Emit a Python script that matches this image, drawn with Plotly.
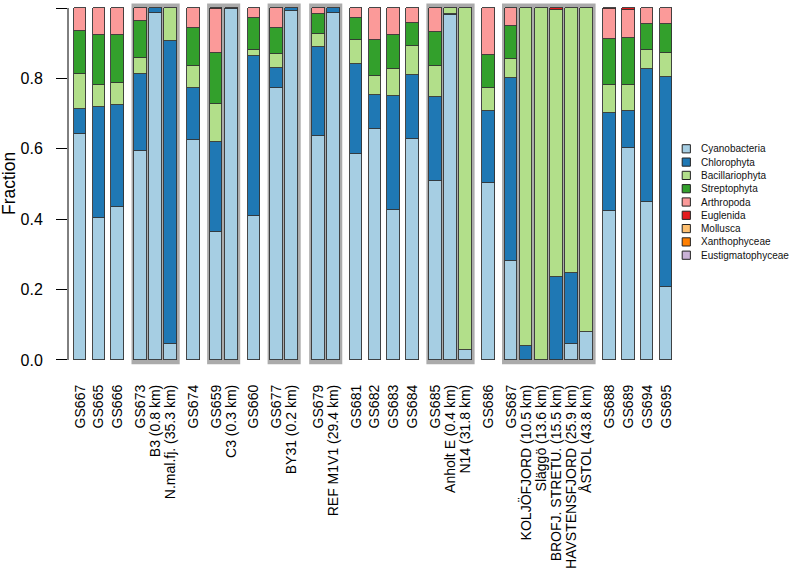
import plotly.graph_objects as go

# sample labels, left to right
samples = [
    "GS667", "GS665", "GS666", "GS673", "B3 (0.8 km)", "N.mal.fj. (35.3 km)", "GS674",
    "GS659", "C3 (0.3 km)", "GS660", "GS677", "BY31 (0.2 km)", "GS679", "REF M1V1 (29.4 km)",
    "GS681", "GS682", "GS683", "GS684", "GS685", "Anholt E (0.4 km)", "N14 (31.8 km)", "GS686",
    "GS687", "KOLJÖFJORD (10.5 km)", "Släggö (13.6 km)", "BROFJ. STRETU. (15.5 km)",
    "HAVSTENSFJORD (25.9 km)", "ÅSTOL (43.8 km)", "GS688", "GS689", "GS694", "GS695",
]

# samples drawn inside a grey box
boxed_groups = [
    ["GS673", "B3 (0.8 km)", "N.mal.fj. (35.3 km)"],
    ["GS659", "C3 (0.3 km)"],
    ["GS677", "BY31 (0.2 km)"],
    ["GS679", "REF M1V1 (29.4 km)"],
    ["GS685", "Anholt E (0.4 km)", "N14 (31.8 km)"],
    ["GS687", "KOLJÖFJORD (10.5 km)", "Släggö (13.6 km)", "BROFJ. STRETU. (15.5 km)",
     "HAVSTENSFJORD (25.9 km)", "ÅSTOL (43.8 km)"],
]

cyanobacteria = [0.641, 0.404, 0.436, 0.593, 0.986, 0.045, 0.626, 0.363, 0.997, 0.409, 0.772,
                 0.991, 0.635, 0.985, 0.585, 0.655, 0.425, 0.629, 0.508, 0.979, 0.027, 0.504,
                 0.281, 0.0, 0.0, 0.0, 0.045, 0.079, 0.423, 0.603, 0.448, 0.207]
chlorophyta = [0.072, 0.314, 0.288, 0.219, 0.014, 0.860, 0.148, 0.256, 0.003, 0.455, 0.057,
               0.009, 0.255, 0.015, 0.256, 0.098, 0.325, 0.182, 0.239, 0.003, 0.0, 0.203,
               0.519, 0.040, 0.0, 0.237, 0.201, 0.0, 0.279, 0.105, 0.379, 0.597]
bacillariophyta = [0.100, 0.064, 0.063, 0.045, 0.0, 0.095, 0.062, 0.107, 0.0, 0.018, 0.039,
                   0.0, 0.035, 0.0, 0.068, 0.054, 0.078, 0.081, 0.087, 0.018, 0.973, 0.065,
                   0.054, 0.960, 1.0, 0.758, 0.754, 0.921, 0.079, 0.072, 0.053, 0.068]
streptophyta = [0.123, 0.140, 0.135, 0.105, 0.0, 0.0, 0.107, 0.146, 0.0, 0.090, 0.075,
                0.0, 0.058, 0.0, 0.063, 0.103, 0.095, 0.066, 0.098, 0.0, 0.0, 0.095,
                0.096, 0.0, 0.0, 0.0, 0.0, 0.0, 0.130, 0.136, 0.075, 0.083]
arthropoda = [0.064, 0.078, 0.078, 0.038, 0.0, 0.0, 0.057, 0.126, 0.0, 0.028, 0.057,
              0.0, 0.017, 0.0, 0.028, 0.090, 0.077, 0.042, 0.068, 0.0, 0.0, 0.133,
              0.050, 0.0, 0.0, 0.0, 0.0, 0.0, 0.086, 0.079, 0.045, 0.045]
euglenida = [0.0, 0.0, 0.0, 0.0, 0.0, 0.0, 0.0, 0.002, 0.0, 0.0, 0.0,
             0.0, 0.0, 0.0, 0.0, 0.0, 0.0, 0.0, 0.0, 0.0, 0.0, 0.0,
             0.0, 0.0, 0.0, 0.005, 0.0, 0.0, 0.003, 0.005, 0.0, 0.0]
mollusca = [0.0] * 32
xanthophyceae = [0.0] * 32
eustigmatophyceae = [0.0] * 32

taxa = ["Cyanobacteria", "Chlorophyta", "Bacillariophyta", "Streptophyta", "Arthropoda",
        "Euglenida", "Mollusca", "Xanthophyceae", "Eustigmatophyceae"]
series = [cyanobacteria, chlorophyta, bacillariophyta, streptophyta, arthropoda,
          euglenida, mollusca, xanthophyceae, eustigmatophyceae]
colors = ["#A6CEE3", "#1F78B4", "#B2DF8A", "#33A02C", "#FB9A99",
          "#E31A1C", "#FDBF6F", "#FF7F00", "#CAB2D6"]

FONT = "Liberation Sans, Arial, sans-serif"
BAR_W = 0.67
BOX_PAD = 0.14

# x positions: boxed bars sit closer together, with a little extra room around each box
group_of = {}
for gi, g in enumerate(boxed_groups):
    for s in g:
        group_of[s] = gi
xpos = [0.0]
for prev, cur in zip(samples[:-1], samples[1:]):
    gp, gc = group_of.get(prev), group_of.get(cur)
    if gp is not None and gp == gc:
        step = 0.8
    else:
        step = 1.0 + (0.2 if gp is not None else 0) + (0.2 if gc is not None else 0)
    xpos.append(xpos[-1] + step)
pos_of = dict(zip(samples, xpos))

fig = go.Figure()
for name, vals, col in zip(taxa, series, colors):
    fig.add_trace(go.Bar(
        x=xpos, y=[v if v > 0 else None for v in vals], name=name, width=BAR_W,
        marker=dict(color=col, line=dict(color="#333333", width=0.9)),
        showlegend=False,
    ))

shapes = []
for g in boxed_groups:
    shapes.append(dict(
        type="rect", xref="x", yref="y", layer="below",
        x0=pos_of[g[0]] - BAR_W / 2 - BOX_PAD, x1=pos_of[g[-1]] + BAR_W / 2 + BOX_PAD,
        y0=-0.012, y1=1.013, fillcolor="#ababab", line=dict(width=0),
    ))
# y axis line only over 0..1, R style
shapes.append(dict(type="line", xref="paper", yref="y", x0=0, x1=0, y0=0, y1=1,
                   line=dict(color="black", width=1)))

# hand-made legend to get R's compact spacing
plot_l, plot_r, plot_t, plot_b = 68, 678.5, 2, 366
pw, ph = plot_r - plot_l, plot_b - plot_t
annotations = []
for i, (name, col) in enumerate(zip(taxa, colors)):
    cy = 148.8 + i * 13.3
    shapes.append(dict(
        type="rect", xref="paper", yref="paper",
        x0=(682.7 - plot_l) / pw, x1=(690.9 - plot_l) / pw,
        y0=(plot_b - cy - 4.1) / ph, y1=(plot_b - cy + 4.1) / ph,
        fillcolor=col, line=dict(color="#222222", width=1),
    ))
    annotations.append(dict(
        xref="paper", yref="paper", x=(699.5 - plot_l) / pw, y=(plot_b - cy) / ph,
        text=name, showarrow=False, xanchor="left", yanchor="middle",
        font=dict(family=FONT, size=10, color="#111111"),
    ))
annotations.append(dict(
    xref="paper", yref="paper", x=0, y=0.5, xshift=-59, text="Fraction", textangle=-90,
    showarrow=False, xanchor="center", yanchor="middle",
    font=dict(family=FONT, size=17.5, color="black"),
))

fig.update_layout(
    width=793, height=575,
    barmode="stack", bargap=0,
    plot_bgcolor="white", paper_bgcolor="white",
    margin=dict(l=plot_l, r=793 - plot_r, t=plot_t, b=575 - plot_b, autoexpand=False),
    xaxis=dict(
        range=[-0.634, xpos[-1] + 0.634], tickmode="array", tickvals=xpos, ticktext=samples,
        tickangle=-90, ticks="", showline=False, showgrid=False, zeroline=False,
        tickfont=dict(family=FONT, size=14, color="black"), ticklabelstandoff=15,
        automargin=False,
    ),
    yaxis=dict(
        range=[-0.0171, 1.0171], tickmode="array", tickvals=[0, 0.2, 0.4, 0.6, 0.8, 1.0],
        ticktext=["0.0", "0.2", "0.4", "0.6", "0.8", "1.0"], ticks="outside", ticklen=11,
        tickcolor="black", tickwidth=1, showline=False, showgrid=False, zeroline=False,
        tickfont=dict(family=FONT, size=16, color="black"), ticklabelstandoff=10,
        automargin=False,
    ),
    shapes=shapes, annotations=annotations,
)

# drop the browser's default 8px page margin so the figure sits at the window corner
fig.write_html("out.html", config={"displayModeBar": False},
               post_script="document.body.style.margin='0';")
